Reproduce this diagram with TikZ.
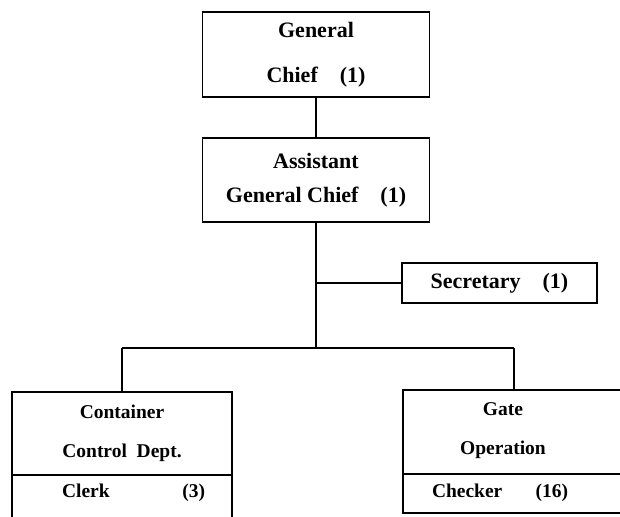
\documentclass[tikz,border=0pt]{standalone}
\usepackage{fontspec}
\setmainfont{Liberation Serif}

\begin{document}
\begin{tikzpicture}[x=1pt,y=-1pt,
  box/.style={draw,line width=1.8pt,inner sep=0pt,outer sep=0pt},
  trunk/.style={line width=2.8pt},
  busline/.style={line width=2pt},
  branch/.style={line width=1.4pt},
  bigtxt/.style={font=\fontsize{22}{34}\selectfont\bfseries},
  smalltxt/.style={font=\fontsize{19.5}{39}\selectfont\bfseries}]
\useasboundingbox (0,0) rectangle (620,516);
\clip (0,0) rectangle (620,516);
\node[box,align=center,minimum width=227pt,minimum height=85pt,font=\fontsize{22}{45}\selectfont\bfseries] (gc) at (316,54.5) {General\\Chief\quad(1)};
\node[box,bigtxt,align=center,minimum width=227pt,minimum height=84pt] (agc) at (316,180) {Assistant\\General Chief\quad(1)};
\node[box,bigtxt,minimum width=195pt,minimum height=40pt] (sec) at (499.5,283) {Secretary\quad(1)};
\node[box,smalltxt,align=center,minimum width=220pt,minimum height=83pt] (ccd) at (122,433.5) {Container\\Control\enspace Dept.};
\node[box,minimum width=220pt,minimum height=50pt,anchor=north] (ccdstaff) at (ccd.south) {};
\node[smalltxt] (clerk) at (133.5,493) {\makebox[143pt]{Clerk\hfill(3)}};
\node[box,minimum width=222pt,minimum height=84pt] (gate) at (514,432) {};
\node[smalltxt,align=center] (gatetxt) at (503,431) {Gate\\Operation};
\node[box,minimum width=222pt,minimum height=39pt,anchor=north] (gatestaff) at (gate.south) {};
\node[smalltxt] (checker) at (500,493) {\makebox[136pt]{Checker\hfill(16)}};
\coordinate (bus) at (316,348);
\draw[trunk] (gc) -- (agc);
\draw[trunk] (agc) -- (bus);
\draw[branch] (agc.south |- sec.west) -- (sec);
\draw[busline] (ccd.north |- bus) -- (gate.north |- bus);
\draw[trunk] (ccd.north |- bus) -- (ccd);
\draw[trunk] (gate.north |- bus) -- (gate);
\end{tikzpicture}
\end{document}
